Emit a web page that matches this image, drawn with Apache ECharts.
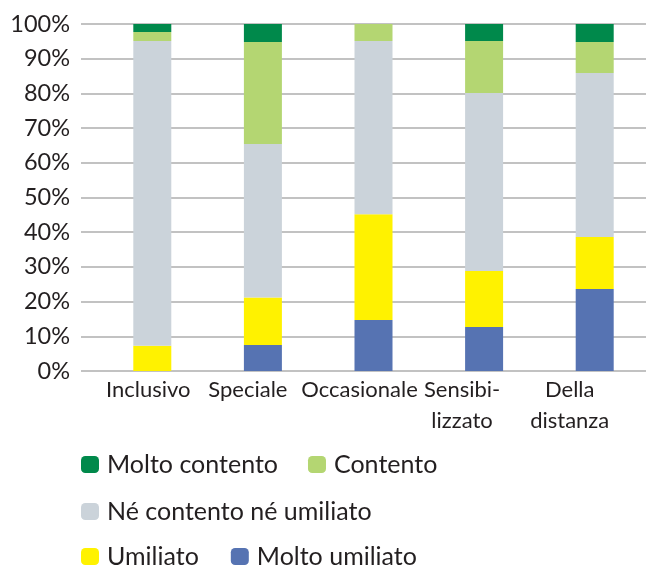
<!DOCTYPE html>
<html>
<head>
<meta charset="utf-8">
<script src="https://cdn.jsdelivr.net/npm/echarts@6/dist/echarts.min.js"></script>
<style>
  html, body { margin: 0; padding: 0; background: #fff; overflow: hidden; }
  #chart { width: 646px; height: 569px; }
</style>
</head>
<body>
<div id="chart"></div>
<script>
// ── Data ─────────────────────────────────────────────────────────────────────
const categories = ['Inclusivo', 'Speciale', 'Occasionale', 'Sensibi-\nlizzato', 'Della\ndistanza'];
const yTicks = [0, 10, 20, 30, 40, 50, 60, 70, 80, 90, 100];

const moltoUmiliato  = [0,    7.5,  14.7, 12.7, 23.6];
const umiliato       = [7.3,  13.7, 30.5, 16.1, 15.0];
const neNe           = [87.8, 44.2, 49.9, 51.3, 47.3];
const contento       = [2.6,  29.4, 4.9,  15.0, 8.9];
const moltoContento  = [2.3,  5.2,  0,    4.9,  5.2];

// label nudges (px, leftwards) so the text sits like the original
const labelShift = [4, 15, 14, 22, 25];

const FONT = 'Lato';
const TXT = '#231f20';

const mkSeries = (name, data, color) => ({
    name, type: 'bar', stack: 'all',
    xAxisIndex: 1, yAxisIndex: 1,
    barWidth: 38,
    data,
    itemStyle: { color }
});

const legendText = { fontSize: 25, color: TXT, fontFamily: FONT, padding: [0, 0, 0, 3] };

const chart = echarts.init(document.getElementById('chart'), null, { renderer: 'canvas' });

chart.setOption({
    animation: false,
    textStyle: { fontFamily: FONT, color: TXT },
    grid: [
        { left: 81, right: 0, top: 24, bottom: 198, outerBoundsMode: 'none', containLabel: false },   // gridlines + y labels
        { left: 97, right: -4, top: 24, bottom: 198, outerBoundsMode: 'none', containLabel: false }   // bars
    ],
    xAxis: [
        { type: 'category', gridIndex: 0, data: categories, show: false },
        {
            type: 'category', gridIndex: 1,
            data: categories.map((c, i) => ({
                value: c,
                textStyle: { padding: [0, labelShift[i] * 2, 0, 0] }
            })),
            axisLine: { show: false },
            axisTick: { show: false },
            axisLabel: {
                interval: 0, margin: 3, hideOverlap: false,
                fontSize: 22, lineHeight: 31, color: TXT, fontFamily: FONT
            }
        }
    ],
    yAxis: [
        {
            type: 'value', gridIndex: 0,
            min: yTicks[0], max: yTicks[yTicks.length - 1], interval: 10,
            axisLine: { show: false }, axisTick: { show: false },
            axisLabel: { formatter: '{value}%', fontSize: 23.5, color: TXT, margin: 11, fontFamily: FONT },
            splitLine: { lineStyle: { color: '#c2c2c2', width: 2 } }
        },
        {
            type: 'value', gridIndex: 1, min: 0, max: 100, show: false
        }
    ],
    legend: [
        {
            left: 81, top: 452, padding: 0, itemWidth: 18, itemHeight: 17, itemGap: 30,
            icon: 'roundRect', textStyle: legendText,
            data: ['Molto contento', 'Contento']
        },
        {
            left: 81, top: 499, padding: 0, itemWidth: 18, itemHeight: 17,
            icon: 'roundRect', textStyle: legendText,
            data: ['Né contento né umiliato']
        },
        {
            left: 81, top: 544, padding: 0, itemWidth: 18, itemHeight: 17, itemGap: 32,
            icon: 'roundRect', textStyle: legendText,
            data: ['Umiliato', 'Molto umiliato']
        }
    ],
    series: [
        mkSeries('Molto umiliato', moltoUmiliato, '#5673b2'),
        mkSeries('Umiliato', umiliato, '#fff200'),
        mkSeries('Né contento né umiliato', neNe, '#cbd3da'),
        mkSeries('Contento', contento, '#b4d672'),
        mkSeries('Molto contento', moltoContento, '#00894b')
    ]
});
</script>
</body>
</html>
